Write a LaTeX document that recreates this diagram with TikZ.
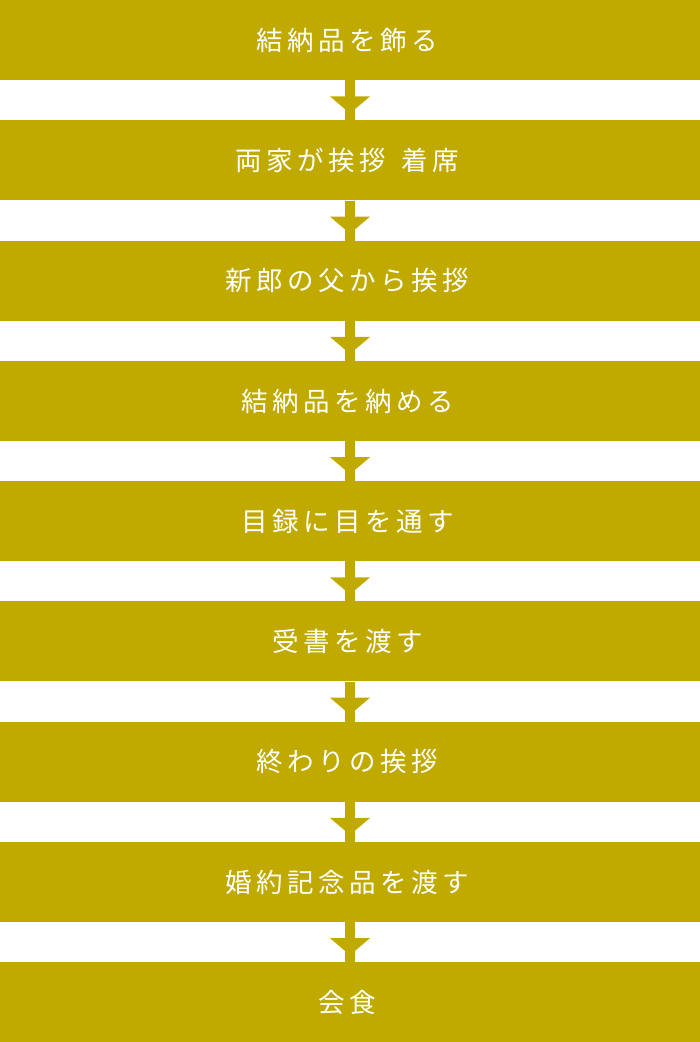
\documentclass[tikz,border=0pt]{standalone}
\usepackage{fontspec}
\newfontfamily\jp[LetterSpace=17]{Noto Sans CJK JP}
\definecolor{gold}{RGB}{192,170,0}
\begin{document}
\begin{tikzpicture}[x=1pt,y=-1pt,
  stepbox/.style={fill=gold,draw=none,minimum width=700pt,minimum height=80pt,inner sep=0pt,anchor=north,
    font=\jp\fontsize{26.5}{26.5}\selectfont,text=white},
  link/.style={fill=gold,draw=none}]
\useasboundingbox (0,0) rectangle (700,1042);
\foreach \t [count=\i from 0] in {結納品を飾る,両家が挨拶\hspace{0.6em}着席,新郎の父から挨拶,結納品を納める,目録に目を通す,受書を渡す,終わりの挨拶,婚約記念品を渡す,会食}{
  \node[stepbox] (b\i) at (350,{\i*120.25}) {\raisebox{-1pt}{\t}\hspace*{5pt}};
}
\foreach \i [evaluate=\i as \j using int(\i+1)] in {0,...,7}{
  \fill[link] ([xshift=-5pt]b\i.south) rectangle ([xshift=5pt]b\j.north);
  \fill[link] ([xshift=-20pt,yshift=-16pt]b\i.south) -- ([xshift=20pt,yshift=-16pt]b\i.south) -- ([yshift=-33pt]b\i.south) -- cycle;
}
\end{tikzpicture}
\end{document}
